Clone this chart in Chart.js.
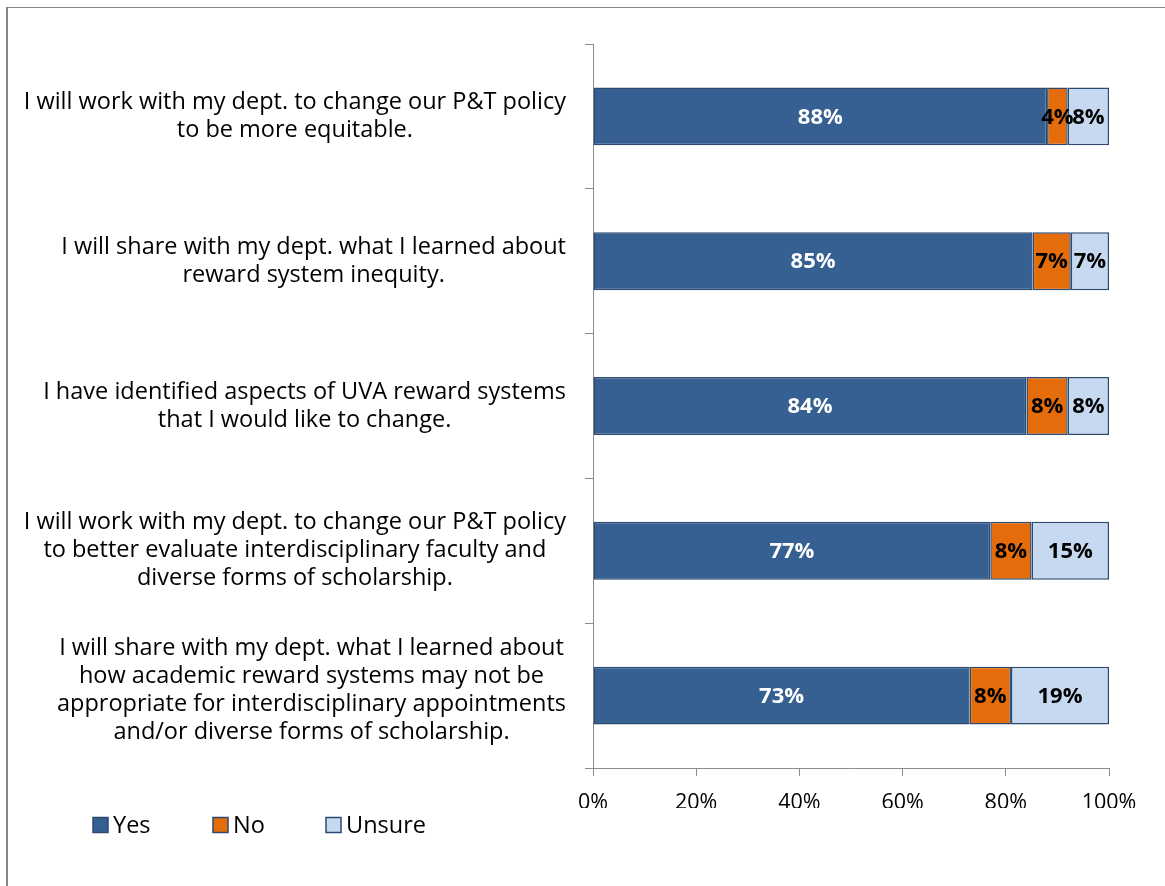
<!DOCTYPE html>
<html>
<head>
<meta charset="utf-8">
<script src="https://cdn.jsdelivr.net/npm/chart.js@4.4.1/dist/chart.umd.min.js"></script>
<style>
  html, body { margin: 0; padding: 0; background: #fff; }
  #frame { position: absolute; left: 6px; top: 7px; width: 1200px; height: 900px;
           border-left: 2px solid #868686; border-top: 1px solid #868686; }
  #wrap { position: absolute; left: 0; top: 0; }
</style>
</head>
<body>
<div id="frame"></div>
<div id="wrap"><canvas id="myChart" width="1165" height="886"></canvas></div>
<script>
"use strict";
const categories = [
    ["I will work with my dept. to change our P&T policy", "to be more equitable."],
    ["I will share with my dept. what I learned about", "reward system inequity."],
    ["I have identified aspects of UVA reward systems", "that I would like to change."],
    ["I will work with my dept. to change our P&T policy", "to better evaluate interdisciplinary faculty and", "diverse forms of scholarship."],
    ["I will share with my dept. what I learned about", "how academic reward systems may not be",
     "appropriate for interdisciplinary appointments", "and/or diverse forms of scholarship."]
];
const seriesNames = ["Yes", "No", "Unsure"];
// shares in percent; the printed labels are these rounded
const yesValues = [88, 85.2, 84, 77, 73];
const noValues = [4, 7.4, 8, 8, 8];
const unsureValues = [8, 7.4, 8, 15, 19];
const tickLabels = ["0%", "20%", "40%", "60%", "80%", "100%"];

const fillColors = [
    "#376092", //yes
    "#e46c0a", //no
    "#c6d9f1"  //unsure
];
const labelColors = ["#ffffff", "#000000", "#000000"];
const FONT = "'Open Sans', sans-serif";
const TEXT_SIZE = 23.5;   // category and legend text
const NUM_SIZE = 21.5;    // axis percentages
const VALUE_SIZE = 22;    // bold values in the bars

// category text: each label block centred on itself, block right-aligned to the axis
const categoryLabels = {
    id: "categoryLabels",
    afterDraw(chart) {
        const ctx = chart.ctx;
        const yScale = chart.scales.y;
        const right = chart.chartArea.left - 27;
        const lineH = 28;
        ctx.save();
        ctx.font = TEXT_SIZE + "px " + FONT;
        ctx.fillStyle = "#000";
        ctx.textAlign = "center";
        ctx.textBaseline = "middle";
        categories.forEach((lines, i) => {
            // long four-line label sits a little high, like the wrapped text box does
            const y = yScale.getPixelForValue(i) + (lines.length > 3 ? -5 : 0);
            const maxW = Math.max(...lines.map(l => ctx.measureText(l).width));
            const cx = right - maxW / 2;
            lines.forEach((line, j) => {
                ctx.fillText(line, cx, y + (j - (lines.length - 1) / 2) * lineH);
            });
        });
        ctx.restore();
    }
};

// percentage inside each segment
const valueLabels = {
    id: "valueLabels",
    afterDatasetsDraw(chart) {
        const ctx = chart.ctx;
        ctx.save();
        ctx.font = "bold " + VALUE_SIZE + "px " + FONT;
        ctx.textAlign = "center";
        ctx.textBaseline = "middle";
        chart.data.datasets.forEach((ds, d) => {
            const meta = chart.getDatasetMeta(d);
            ctx.fillStyle = labelColors[d];
            meta.data.forEach((bar, i) => {
                ctx.fillText(Math.round(ds.data[i]) + "%", (bar.x + bar.base) / 2, bar.y + 1);
            });
        });
        ctx.restore();
    }
};

// legend in the lower left corner
const legendBox = {
    id: "legendBox",
    afterDraw(chart) {
        const ctx = chart.ctx;
        const xs = [93, 213, 326];
        const y = 825;
        ctx.save();
        ctx.font = TEXT_SIZE + "px " + FONT;
        ctx.textBaseline = "middle";
        chart.data.datasets.forEach((ds, d) => {
            ctx.fillStyle = ds.backgroundColor;
            ctx.fillRect(xs[d], y - 7.5, 15, 15);
            ctx.strokeStyle = ds.borderColor;
            ctx.lineWidth = 1.5;
            ctx.strokeRect(xs[d], y - 7.5, 15, 15);
            ctx.fillStyle = "#000";
            ctx.fillText(ds.label, xs[d] + 20, y + 1);
        });
        ctx.restore();
    }
};

function makeDataset(name, values, d) {
    return {
        label: name,
        data: values,
        backgroundColor: fillColors[d],
        borderColor: "#2c4a70",
        borderWidth: 1.5,
        borderSkipped: false,
        barPercentage: 0.4,
        categoryPercentage: 1
    };
}

const chart = new Chart("myChart", {
    type: "bar",
    data: {
        labels: categories,
        datasets: [
            makeDataset(seriesNames[0], yesValues, 0),
            makeDataset(seriesNames[1], noValues, 1),
            makeDataset(seriesNames[2], unsureValues, 2)
        ]
    },
    options: {
        indexAxis: "y",
        responsive: false,
        animation: false,
        layout: { padding: { left: 0, top: 44, right: 56, bottom: 78 } },
        plugins: {
            legend: { display: false },
            tooltip: { enabled: false }
        },
        scales: {
            x: {
                stacked: true,
                min: 0,
                max: 100,
                afterFit(scale) { scale.height = 40; },
                grid: { drawOnChartArea: false, tickLength: 8, color: "#8c8c8c" },
                border: { color: "#8c8c8c" },
                ticks: {
                    stepSize: 20,
                    padding: 14,
                    color: "#000",
                    font: { family: FONT, size: NUM_SIZE },
                    callback: (v) => tickLabels[v / 20]
                }
            },
            y: {
                stacked: true,
                afterFit(scale) { scale.width = 593; },
                grid: { drawOnChartArea: false, tickLength: 8, color: "#8c8c8c" },
                border: { color: "#8c8c8c" },
                ticks: { display: false }
            }
        }
    },
    plugins: [categoryLabels, valueLabels, legendBox]
});
</script>
</body>
</html>
